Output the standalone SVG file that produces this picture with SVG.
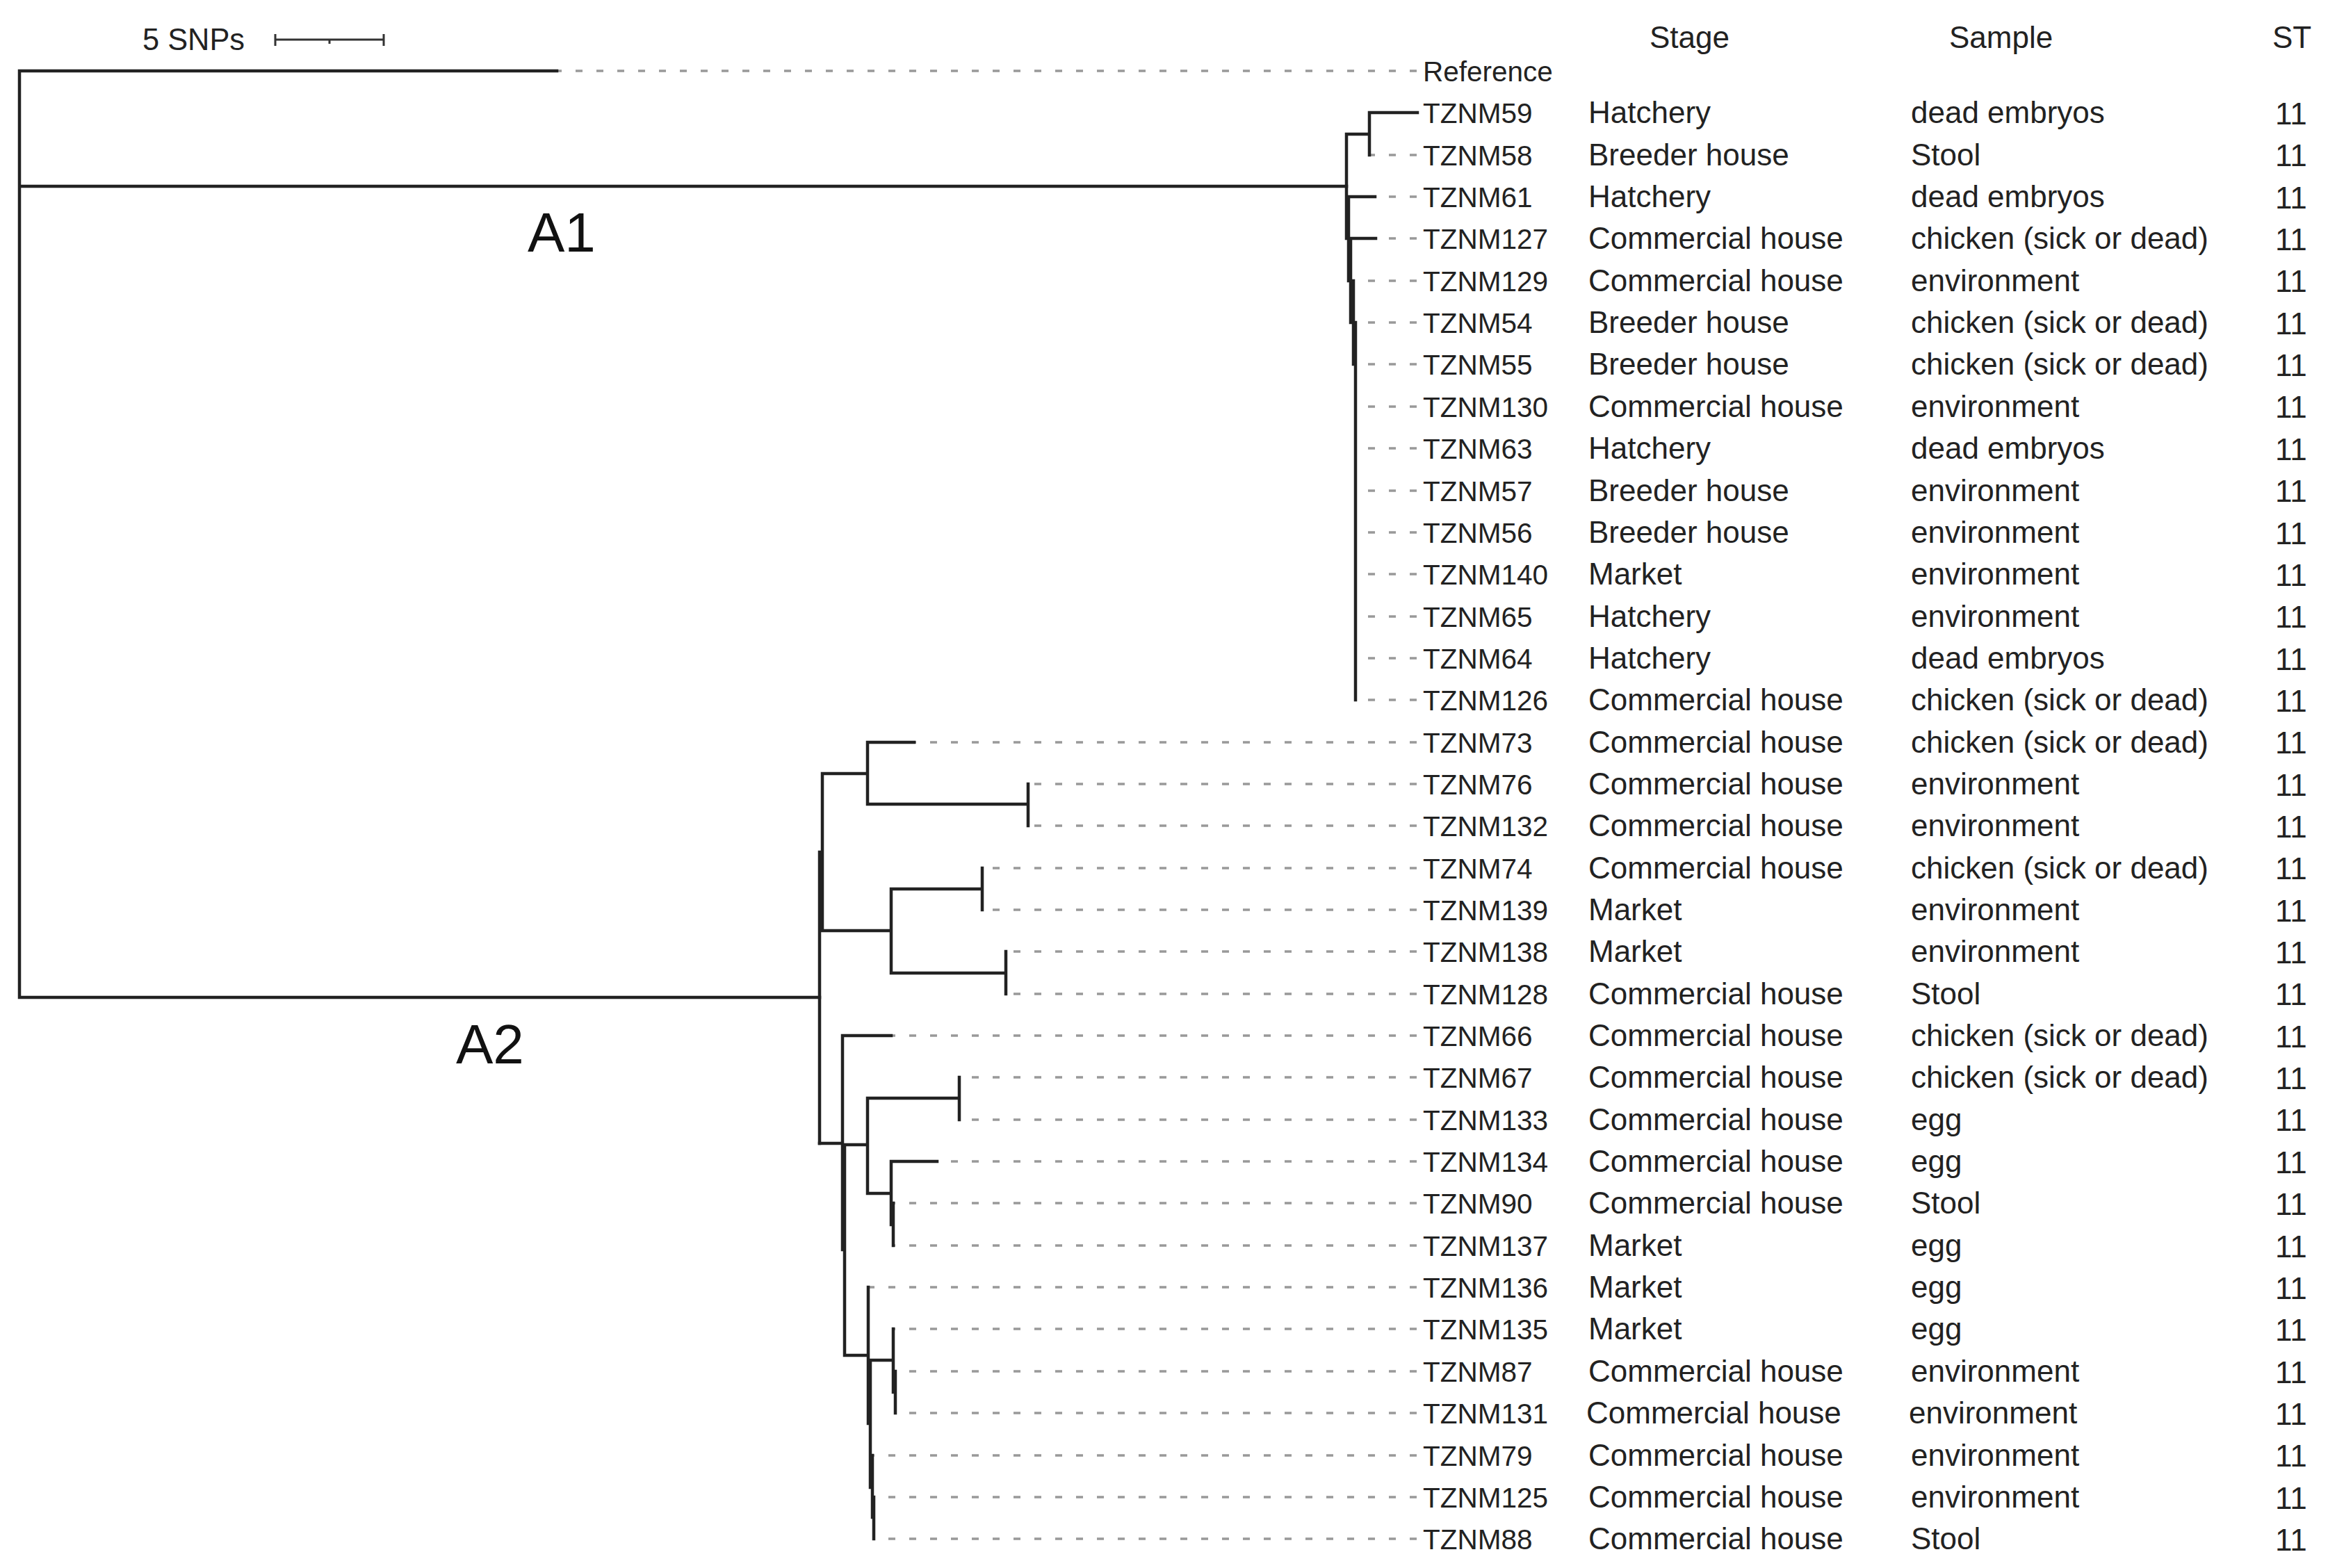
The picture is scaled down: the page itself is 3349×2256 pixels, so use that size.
<svg xmlns="http://www.w3.org/2000/svg" width="3349" height="2256" viewBox="0 0 3349 2256">
<style>
.br{stroke:#222;stroke-width:4.5;fill:none;stroke-linecap:square}
.ds{stroke:#999;stroke-width:3.5;fill:none;stroke-dasharray:10 20}
.lb{font-family:"Liberation Sans",Arial,sans-serif;font-size:40.5px;fill:#222}
.tb{font-family:"Liberation Sans",Arial,sans-serif;font-size:44px;fill:#222}
.cl{font-family:"Liberation Sans",Arial,sans-serif;font-size:80px;fill:#111}
</style>
<rect width="3349" height="2256" fill="#fff"/>
<g id="scale-bar">
<path class="br" style="stroke:#333;stroke-width:3;stroke-linecap:butt" d="M396 57H552M396 49V66M552 49V66M474 57V63"/>
<text class="tb" x="205" y="72" font-size="47" textLength="147" lengthAdjust="spacingAndGlyphs">5 SNPs</text>
</g>
<g id="connectors">
<g id="dashed-leaders">
<path class="ds" style="stroke-dashoffset:3" d="M801 102H2040"/>
<path class="ds" style="stroke-dashoffset:2" d="M1970 223H2040"/>
<path class="ds" style="stroke-dashoffset:10" d="M1978 283H2040"/>
<path class="ds" style="stroke-dashoffset:11" d="M1979 343H2040"/>
<path class="ds" style="stroke-dashoffset:9" d="M1947 404H2040"/>
<path class="ds" style="stroke-dashoffset:12" d="M1950 464H2040M1950 524H2040M1950 585H2040M1950 645H2040M1950 706H2040M1950 766H2040M1950 826H2040M1950 887H2040M1950 947H2040M1950 1007H2040"/>
<path class="ds" style="stroke-dashoffset:7" d="M1315 1068H2040"/>
<path class="ds" style="stroke-dashoffset:21" d="M1479 1128H2040M1479 1188H2040"/>
<path class="ds" style="stroke-dashoffset:15" d="M1413 1249H2040M1413 1309H2040"/>
<path class="ds" style="stroke-dashoffset:19" d="M1447 1369H2040M1447 1430H2040"/>
<path class="ds" style="stroke-dashoffset:4" d="M1282 1490H2040"/>
<path class="ds" style="stroke-dashoffset:12" d="M1380 1550H2040M1380 1611H2040"/>
<path class="ds" style="stroke-dashoffset:10" d="M1348 1671H2040"/>
<path class="ds" style="stroke-dashoffset:7" d="M1285 1731H2040M1285 1792H2040"/>
<path class="ds" style="stroke-dashoffset:1" d="M1249 1852H2040"/>
<path class="ds" style="stroke-dashoffset:7" d="M1285 1912H2040"/>
<path class="ds" style="stroke-dashoffset:10" d="M1288 1973H2040M1288 2033H2040"/>
<path class="ds" style="stroke-dashoffset:7" d="M1255 2094H2040"/>
<path class="ds" style="stroke-dashoffset:9" d="M1257 2154H2040M1257 2214H2040"/>
</g>
<g id="branches">
<path class="br" d="M28 102V1435M28 102H801M28 268H1937M28 1435H1179"/>
<path class="br" d="M1937 193V343M1937 193H1970M1970 162V223M1970 162H2039M1940 283V404M1940 283H1978M1937 343H1979M1943 343V464M1947 404V524M1950 464V1007"/>
<path class="br" d="M1179 1226V1645M1183 1113V1339M1183 1113H1248M1248 1068V1157M1248 1068H1315M1248 1157H1479M1479 1128V1188M1183 1339H1282M1282 1279V1400M1282 1279H1413M1413 1249V1309M1282 1400H1447M1447 1369V1430"/>
<path class="br" d="M1179 1645H1212M1212 1490V1798M1212 1490H1282M1215 1647V1950M1215 1647H1248M1248 1580V1717M1248 1580H1380M1380 1550V1611M1248 1717H1282M1282 1671V1762M1282 1671H1348M1285 1731V1792M1215 1950H1249M1249 1852V2048M1252 1957V2140M1252 1957H1285M1285 1912V2003M1288 1973V2033M1255 2094V2183M1257 2154V2214"/>
</g>
</g>
<g id="clade-labels">
<text class="cl" x="759" y="362">A1</text>
<text class="cl" x="656" y="1530">A2</text>
</g>
<g id="headers">
<text class="tb" x="2373" y="69">Stage</text>
<text class="tb" x="2804" y="69">Sample</text>
<text class="tb" x="3269" y="69">ST</text>
</g>
<g id="leaf-labels" class="lb">
<text x="2047" y="117">Reference</text>
<text x="2047" y="177">TZNM59</text>
<text x="2047" y="238">TZNM58</text>
<text x="2047" y="298">TZNM61</text>
<text x="2047" y="358">TZNM127</text>
<text x="2047" y="419">TZNM129</text>
<text x="2047" y="479">TZNM54</text>
<text x="2047" y="539">TZNM55</text>
<text x="2047" y="600">TZNM130</text>
<text x="2047" y="660">TZNM63</text>
<text x="2047" y="721">TZNM57</text>
<text x="2047" y="781">TZNM56</text>
<text x="2047" y="841">TZNM140</text>
<text x="2047" y="902">TZNM65</text>
<text x="2047" y="962">TZNM64</text>
<text x="2047" y="1022">TZNM126</text>
<text x="2047" y="1083">TZNM73</text>
<text x="2047" y="1143">TZNM76</text>
<text x="2047" y="1203">TZNM132</text>
<text x="2047" y="1264">TZNM74</text>
<text x="2047" y="1324">TZNM139</text>
<text x="2047" y="1384">TZNM138</text>
<text x="2047" y="1445">TZNM128</text>
<text x="2047" y="1505">TZNM66</text>
<text x="2047" y="1565">TZNM67</text>
<text x="2047" y="1626">TZNM133</text>
<text x="2047" y="1686">TZNM134</text>
<text x="2047" y="1746">TZNM90</text>
<text x="2047" y="1807">TZNM137</text>
<text x="2047" y="1867">TZNM136</text>
<text x="2047" y="1927">TZNM135</text>
<text x="2047" y="1988">TZNM87</text>
<text x="2047" y="2048">TZNM131</text>
<text x="2047" y="2109">TZNM79</text>
<text x="2047" y="2169">TZNM125</text>
<text x="2047" y="2229">TZNM88</text>
</g>
<g id="stage-column" class="tb">
<text x="2285" y="177">Hatchery</text>
<text x="2285" y="238">Breeder house</text>
<text x="2285" y="298">Hatchery</text>
<text x="2285" y="358">Commercial house</text>
<text x="2285" y="419">Commercial house</text>
<text x="2285" y="479">Breeder house</text>
<text x="2285" y="539">Breeder house</text>
<text x="2285" y="600">Commercial house</text>
<text x="2285" y="660">Hatchery</text>
<text x="2285" y="721">Breeder house</text>
<text x="2285" y="781">Breeder house</text>
<text x="2285" y="841">Market</text>
<text x="2285" y="902">Hatchery</text>
<text x="2285" y="962">Hatchery</text>
<text x="2285" y="1022">Commercial house</text>
<text x="2285" y="1083">Commercial house</text>
<text x="2285" y="1143">Commercial house</text>
<text x="2285" y="1203">Commercial house</text>
<text x="2285" y="1264">Commercial house</text>
<text x="2285" y="1324">Market</text>
<text x="2285" y="1384">Market</text>
<text x="2285" y="1445">Commercial house</text>
<text x="2285" y="1505">Commercial house</text>
<text x="2285" y="1565">Commercial house</text>
<text x="2285" y="1626">Commercial house</text>
<text x="2285" y="1686">Commercial house</text>
<text x="2285" y="1746">Commercial house</text>
<text x="2285" y="1807">Market</text>
<text x="2285" y="1867">Market</text>
<text x="2285" y="1927">Market</text>
<text x="2285" y="1988">Commercial house</text>
<text x="2282" y="2048">Commercial house</text>
<text x="2285" y="2109">Commercial house</text>
<text x="2285" y="2169">Commercial house</text>
<text x="2285" y="2229">Commercial house</text>
</g>
<g id="sample-column" class="tb">
<text x="2749" y="177">dead embryos</text>
<text x="2749" y="238">Stool</text>
<text x="2749" y="298">dead embryos</text>
<text x="2749" y="358">chicken (sick or dead)</text>
<text x="2749" y="419">environment</text>
<text x="2749" y="479">chicken (sick or dead)</text>
<text x="2749" y="539">chicken (sick or dead)</text>
<text x="2749" y="600">environment</text>
<text x="2749" y="660">dead embryos</text>
<text x="2749" y="721">environment</text>
<text x="2749" y="781">environment</text>
<text x="2749" y="841">environment</text>
<text x="2749" y="902">environment</text>
<text x="2749" y="962">dead embryos</text>
<text x="2749" y="1022">chicken (sick or dead)</text>
<text x="2749" y="1083">chicken (sick or dead)</text>
<text x="2749" y="1143">environment</text>
<text x="2749" y="1203">environment</text>
<text x="2749" y="1264">chicken (sick or dead)</text>
<text x="2749" y="1324">environment</text>
<text x="2749" y="1384">environment</text>
<text x="2749" y="1445">Stool</text>
<text x="2749" y="1505">chicken (sick or dead)</text>
<text x="2749" y="1565">chicken (sick or dead)</text>
<text x="2749" y="1626">egg</text>
<text x="2749" y="1686">egg</text>
<text x="2749" y="1746">Stool</text>
<text x="2749" y="1807">egg</text>
<text x="2749" y="1867">egg</text>
<text x="2749" y="1927">egg</text>
<text x="2749" y="1988">environment</text>
<text x="2746" y="2048">environment</text>
<text x="2749" y="2109">environment</text>
<text x="2749" y="2169">environment</text>
<text x="2749" y="2229">Stool</text>
</g>
<g id="st-column" class="tb">
<text x="3273" y="179">11</text>
<text x="3273" y="239">11</text>
<text x="3273" y="300">11</text>
<text x="3273" y="360">11</text>
<text x="3273" y="420">11</text>
<text x="3273" y="481">11</text>
<text x="3273" y="541">11</text>
<text x="3273" y="601">11</text>
<text x="3273" y="662">11</text>
<text x="3273" y="722">11</text>
<text x="3273" y="783">11</text>
<text x="3273" y="843">11</text>
<text x="3273" y="903">11</text>
<text x="3273" y="964">11</text>
<text x="3273" y="1024">11</text>
<text x="3273" y="1084">11</text>
<text x="3273" y="1145">11</text>
<text x="3273" y="1205">11</text>
<text x="3273" y="1265">11</text>
<text x="3273" y="1326">11</text>
<text x="3273" y="1386">11</text>
<text x="3273" y="1446">11</text>
<text x="3273" y="1507">11</text>
<text x="3273" y="1567">11</text>
<text x="3273" y="1627">11</text>
<text x="3273" y="1688">11</text>
<text x="3273" y="1748">11</text>
<text x="3273" y="1809">11</text>
<text x="3273" y="1869">11</text>
<text x="3273" y="1929">11</text>
<text x="3273" y="1990">11</text>
<text x="3273" y="2050">11</text>
<text x="3273" y="2110">11</text>
<text x="3273" y="2171">11</text>
<text x="3273" y="2231">11</text>
</g>
</svg>
